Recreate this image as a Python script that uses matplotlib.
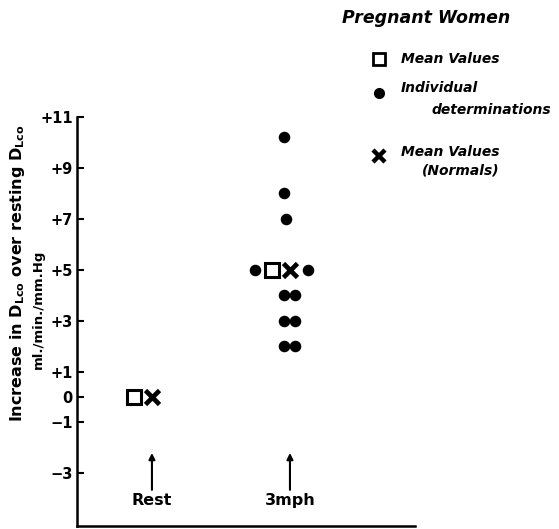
import matplotlib
matplotlib.use("Agg")
import matplotlib.pyplot as plt

# ---- data ----
categories = ["Rest", "3mph"]
mean_pregnant = [0, 5]
mean_normals = [0, 5]
individual_3mph = [10.2, 8, 7, 5, 5, 4, 4, 3, 3, 2, 2]
yticks = [11, 9, 7, 5, 3, 1, 0, -1, -3]
ytick_labels = ["+11", "+9", "+7", "+5", "+3", "+1", "0", "\u22121", "\u22123"]

# layout (horizontal jitter of the individual dots, in category units)
dot_offsets = [-0.04, -0.04, -0.03, -0.25, 0.13, -0.045, 0.035, -0.045, 0.035, -0.045, 0.035]
square_offset = -0.13

plt.rcParams['font.family'] = ['DejaVu Sans']
fig = plt.figure(figsize=(5.59, 5.29), dpi=100)
ax = fig.add_axes([77/559, 3/529, (415-77)/559, (526-117)/529])

xs = [1, 2]
ax.plot([x + square_offset for x in xs], mean_pregnant, ls='none', marker='s', ms=10,
        mfc='white', mec='black', mew=2.2, clip_on=False)
ax.plot(xs, mean_normals, ls='none', marker='x', ms=10, mec='black', mew=3.4, clip_on=False)
ax.plot([2 + o for o in dot_offsets], individual_3mph, ls='none', marker='o', ms=7.3,
        color='black', clip_on=False)

ax.set_xlim(0.457, 2.906)
ax.set_ylim(-5.07, 11)
ax.set_yticks(yticks)
ax.set_yticklabels(ytick_labels, fontsize=10.5, fontweight='bold')
ax.set_xticks([])
ax.tick_params(axis='y', direction='in', length=5, width=1.5, pad=3)
for s in ['top', 'right']:
    ax.spines[s].set_visible(False)
ax.spines['left'].set_linewidth(1.8)
ax.spines['bottom'].set_linewidth(1.8)

# arrows and category labels
for x, lab in zip(xs, categories):
    ax.annotate("", xy=(x, -2.2), xytext=(x, -3.65),
                arrowprops=dict(arrowstyle='-|>', color='black', lw=1.5,
                                mutation_scale=9, shrinkA=0, shrinkB=0))
    ax.text(x, -4.05, lab, ha='center', va='center', fontsize=11.5, fontweight='bold')

# y label (two lines)
fig.text(18/559, 1 - 273/529,
         r"Increase in D$_{\mathbf{Lco}}$ over resting D$_{\mathbf{Lco}}$",
         rotation=90, ha='center', va='center', fontsize=11.5, fontweight='bold')
fig.text(38/559, 1 - 309/529, "ml./min./mm.Hg",
         rotation=90, ha='center', va='center', fontsize=9.5, fontweight='bold')

# legend block
fig.text(342/559, 1 - 18/529, "Pregnant Women", ha='left', va='center',
         fontsize=12.5, fontweight='bold', style='italic')
fig.lines.append(plt.Line2D([379/559], [1 - 59/529], transform=fig.transFigure,
                            marker='s', ms=9, mfc='white', mec='black', mew=2, ls='none'))
fig.text(401/559, 1 - 59/529, "Mean Values", ha='left', va='center',
         fontsize=10, fontweight='bold', style='italic')
fig.lines.append(plt.Line2D([379/559], [1 - 93/529], transform=fig.transFigure,
                            marker='o', ms=7, color='black', ls='none'))
fig.text(401/559, 1 - 88/529, "Individual", ha='left', va='center',
         fontsize=10, fontweight='bold', style='italic')
fig.text(432/559, 1 - 110/529, "determinations", ha='left', va='center',
         fontsize=10, fontweight='bold', style='italic')
fig.lines.append(plt.Line2D([379/559], [1 - 156/529], transform=fig.transFigure,
                            marker='x', ms=9, mec='black', mew=3.2, ls='none'))
fig.text(401/559, 1 - 152/529, "Mean Values", ha='left', va='center',
         fontsize=10, fontweight='bold', style='italic')
fig.text(422/559, 1 - 170/529, "(Normals)", ha='left', va='center',
         fontsize=10, fontweight='bold', style='italic')

fig.savefig("out.png", dpi=100)
